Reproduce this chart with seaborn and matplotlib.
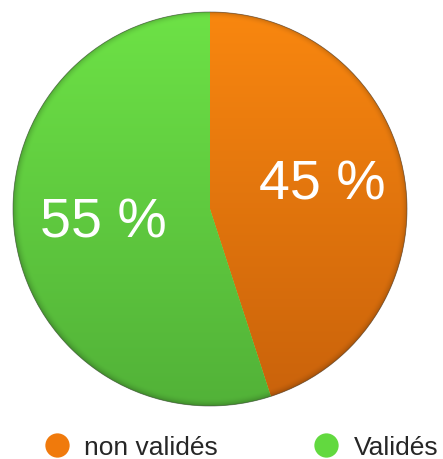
import numpy as np
import matplotlib
matplotlib.use("Agg")
import matplotlib.pyplot as plt
import matplotlib.colors as mcolors
from matplotlib.lines import Line2D
import seaborn as sns

# data
categories = ["non validés", "Validés"]
shares = [45, 55]
top_colors = ["#F9870F", "#6DE246"]
bottom_colors = ["#C9620B", "#52B238"]

sns.set_style("white")
plt.rcParams["font.family"] = ["Liberation Sans", "DejaVu Sans"]

fig = plt.figure(figsize=(4.43, 4.60), dpi=100)
ax = fig.add_axes([12 / 443, 52 / 460, 396 / 443, 396 / 460])

wedges, texts, autotexts = ax.pie(
    shares,
    colors=top_colors,
    startangle=90,
    counterclock=False,
    autopct="%d %%",
    pctdistance=0.57,
    textprops=dict(color="white", fontsize=40),
    wedgeprops=dict(linewidth=0),
)
ax.set_xlim(-1.005, 1.005)
ax.set_ylim(-1.005, 1.005)
ax.set_aspect("equal")
ax.axis("off")

# nudge percentage labels a little
autotexts[0].set_position((0.57, 0.125))
autotexts[1].set_position((-0.54, -0.07))

# shading: vertical gradient plus a darker rim, clipped to each wedge
n = 400
yy, xx = np.mgrid[1:-1:n * 1j, -1:1:n * 1j]
rr = np.sqrt(xx ** 2 + yy ** 2)
t = (1 - yy) / 2
rim = 1 - 0.2 * np.clip((rr - 0.96) / 0.04, 0, 1) ** 2
for w, c0, c1 in zip(wedges, top_colors, bottom_colors):
    a = np.array(mcolors.to_rgb(c0))
    b = np.array(mcolors.to_rgb(c1))
    img = a[None, None, :] * (1 - t[..., None]) + b[None, None, :] * t[..., None]
    img = img * rim[..., None]
    im = ax.imshow(np.clip(img, 0, 1), extent=[-1, 1, -1, 1], zorder=w.get_zorder() + 0.5,
                   interpolation="bilinear")
    im.set_clip_path(w)
for at in autotexts:
    at.set_zorder(5)

outline = plt.Circle((0, 0), 1, fill=False, edgecolor="#444444", linewidth=0.6, alpha=0.6, zorder=4)
ax.add_patch(outline)

handles = [Line2D([], [], marker="o", linestyle="", markersize=17.5,
                  markerfacecolor=c, markeredgewidth=0) for c in ["#F07A0C", "#62D93F"]]
fig.legend(handles, categories, loc="center", bbox_to_anchor=(0.544, 0.026), ncol=2,
           frameon=False, fontsize=19, handletextpad=0.55, columnspacing=3.6,
           handlelength=1.0, borderpad=0, borderaxespad=0)

fig.savefig("out.png", dpi=100)
